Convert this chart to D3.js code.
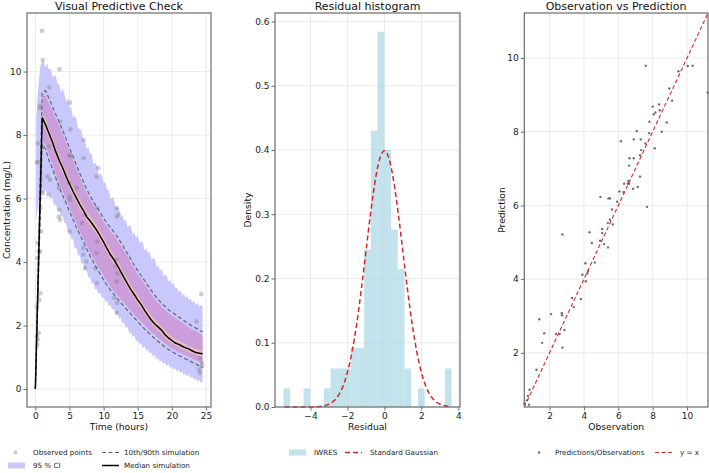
<!DOCTYPE html>
<html>
<head>
<meta charset="utf-8">
<script src="https://cdn.jsdelivr.net/npm/d3@7"></script>
<style>
  body { margin: 0; background: #fff; }
  svg { font-family: 'DejaVu Sans', sans-serif; }
</style>
</head>
<body>
<svg id="chart" width="709" height="473"></svg>
<script>
const TITLE_SIZE = 11
const LABEL_SIZE = 9.2
const TICK_SIZE = 9
const LEGEND_SIZE = 7.2
const SPINE_COLOR = '#6b6b6b'
const GRID_COLOR = '#e6e6e6'
const RED = '#d62728'

// ---- VPC simulation summaries (time in hours) ----
const simTime = [0, 1, 1.5, 2, 2.5, 3, 3.5, 4, 4.5, 5, 5.5, 6, 6.5, 7, 7.5, 8, 8.5, 9, 9.5, 10, 10.5,
  11, 11.5, 12, 12.5, 13, 13.5, 14, 14.5, 15, 15.5, 16, 16.5, 17, 17.5, 18, 18.5, 19, 19.5, 20, 20.5,
  21, 21.5, 22, 22.5, 23, 23.5, 24, 24.5]
const median = [0, 8.55, 8.32, 8.05, 7.78, 7.47, 7.20, 6.97, 6.70, 6.46, 6.23, 6.02, 5.82, 5.64, 5.43, 5.30,
  5.15, 5.00, 4.82, 4.63, 4.42, 4.23, 4.08, 3.90, 3.70, 3.50, 3.31, 3.13, 2.97, 2.80, 2.66, 2.48, 2.32,
  2.17, 2.05, 1.95, 1.85, 1.71, 1.61, 1.53, 1.45, 1.41, 1.35, 1.30, 1.26, 1.20, 1.15, 1.13, 1.11]
const p90 = [0, 9.35, 9.40, 9.15, 8.90, 8.65, 8.40, 8.15, 7.88, 7.60, 7.33, 7.05, 6.80, 6.55, 6.30, 6.10,
  5.90, 5.72, 5.55, 5.38, 5.22, 5.08, 4.95, 4.80, 4.63, 4.45, 4.27, 4.08, 3.90, 3.73, 3.57, 3.42, 3.25,
  3.10, 2.95, 2.82, 2.70, 2.60, 2.50, 2.42, 2.35, 2.27, 2.20, 2.12, 2.05, 1.98, 1.92, 1.86, 1.80]
const p10 = [0, 7.70, 7.55, 7.20, 6.95, 6.65, 6.35, 6.10, 5.85, 5.60, 5.35, 5.10, 4.87, 4.65, 4.42, 4.20,
  4.00, 3.80, 3.62, 3.44, 3.27, 3.12, 2.98, 2.85, 2.72, 2.60, 2.48, 2.36, 2.24, 2.12, 2.00, 1.89, 1.79,
  1.69, 1.59, 1.50, 1.41, 1.33, 1.25, 1.18, 1.12, 1.06, 1.01, 0.95, 0.90, 0.84, 0.79, 0.73, 0.68]

// inner bands start at 1 h
const bandTime = simTime.slice(1)
const pinkHi = [9.22, 9.25, 8.98, 8.78, 8.50, 8.28, 8.02, 7.78, 7.48, 7.24, 6.92, 6.70, 6.42, 6.20, 5.96,
  5.80, 5.60, 5.45, 5.26, 5.12, 4.96, 4.85, 4.68, 4.53, 4.34, 4.18, 3.97, 3.80, 3.62, 3.47, 3.30, 3.15,
  2.98, 2.85, 2.71, 2.60, 2.49, 2.40, 2.31, 2.25, 2.16, 2.10, 2.01, 1.95, 1.87, 1.82, 1.75, 1.70]
const pinkLo = [7.82, 7.68, 7.35, 7.08, 6.78, 6.48, 6.24, 5.97, 5.73, 5.47, 5.22, 4.98, 4.77, 4.53, 4.32,
  4.12, 3.92, 3.75, 3.56, 3.40, 3.24, 3.10, 2.96, 2.83, 2.71, 2.59, 2.47, 2.35, 2.23, 2.12, 2.01, 1.90,
  1.80, 1.70, 1.61, 1.52, 1.44, 1.36, 1.29, 1.23, 1.17, 1.12, 1.06, 1.01, 0.96, 0.91, 0.86, 0.81]
const medHi = [8.72, 8.48, 8.20, 7.93, 7.62, 7.36, 7.10, 6.86, 6.60, 6.38, 6.17, 5.97, 5.79, 5.60, 5.45,
  5.30, 5.15, 4.97, 4.78, 4.57, 4.38, 4.21, 4.05, 3.85, 3.65, 3.46, 3.28, 3.11, 2.94, 2.78, 2.62, 2.46,
  2.30, 2.18, 2.07, 1.96, 1.84, 1.73, 1.65, 1.58, 1.52, 1.46, 1.41, 1.35, 1.30, 1.26, 1.23, 1.21]
const medLo = [8.38, 8.17, 7.90, 7.63, 7.33, 7.06, 6.81, 6.56, 6.32, 6.10, 5.88, 5.68, 5.50, 5.32, 5.17,
  5.02, 4.87, 4.69, 4.50, 4.29, 4.11, 3.94, 3.78, 3.58, 3.38, 3.19, 3.01, 2.85, 2.69, 2.53, 2.38, 2.22,
  2.07, 1.95, 1.85, 1.73, 1.61, 1.52, 1.44, 1.38, 1.32, 1.26, 1.21, 1.16, 1.11, 1.07, 1.04, 1.02]

// 95 % CI band (finer grid, noisy edges)
const ciTime = [0.1, 0.25, 0.5, 0.75,
  1, 1.25, 1.5, 1.75, 2, 2.25, 2.5, 2.75, 3, 3.25, 3.5, 3.75, 4, 4.25, 4.5, 4.75, 5, 5.25, 5.5, 5.75,
  6, 6.25, 6.5, 6.75, 7, 7.25, 7.5, 7.75, 8, 8.25, 8.5, 8.75, 9, 9.25, 9.5, 9.75, 10, 10.25, 10.5, 10.75,
  11, 11.25, 11.5, 11.75, 12, 12.25, 12.5, 12.75, 13, 13.25, 13.5, 13.75, 14, 14.25, 14.5, 14.75,
  15, 15.25, 15.5, 15.75, 16, 16.25, 16.5, 16.75, 17, 17.25, 17.5, 17.75, 18, 18.25, 18.5, 18.75,
  19, 19.25, 19.5, 19.75, 20, 20.25, 20.5, 20.75, 21, 21.25, 21.5, 21.75, 22, 22.25, 22.5, 22.75,
  23, 23.25, 23.5, 23.75, 24, 24.25, 24.5]
const ciHi = [8.4, 9.0, 9.7, 10.2,
  10.30, 10.30, 10.12, 10.25, 10.05, 10.10, 9.83, 9.86, 9.87, 9.60, 9.61, 9.36, 9.46, 9.30, 9.06, 9.15,
  8.88, 8.87, 8.55, 8.60, 8.52, 8.22, 8.19, 8.15, 7.82, 7.84, 7.56, 7.63, 7.40, 7.42, 7.10, 7.13,
  7.06, 6.75, 6.80, 6.73, 6.48, 6.53, 6.27, 6.27, 5.98, 6.05, 6.00, 5.72, 5.73, 5.70, 5.41, 5.48,
  5.28, 5.35, 5.09, 5.15, 5.13, 4.86, 4.93, 4.76, 4.85, 4.61, 4.65, 4.62, 4.35, 4.44, 4.26, 4.33,
  4.07, 4.13, 4.09, 3.84, 3.91, 3.73, 3.79, 3.56, 3.61, 3.57, 3.37, 3.44, 3.29, 3.34, 3.16, 3.21,
  3.05, 3.12, 2.95, 3.01, 2.87, 2.94, 2.80, 2.85, 2.73, 2.79, 2.65, 2.71, 2.60, 2.66, 2.58]
const ciLo = [5.3, 5.6, 5.9, 6.1,
  6.20, 6.18, 6.30, 6.11, 6.18, 5.98, 6.03, 5.77, 5.82, 5.62, 5.66, 5.42, 5.47, 5.22, 5.24, 4.95,
  4.96, 4.73, 4.74, 4.44, 4.45, 4.21, 4.22, 3.94, 3.96, 3.75, 3.77, 3.51, 3.53, 3.32, 3.36, 3.13,
  3.16, 2.99, 3.05, 2.85, 2.91, 2.74, 2.79, 2.60, 2.66, 2.49, 2.54, 2.35, 2.39, 2.22, 2.25, 2.06,
  2.10, 1.92, 1.96, 1.76, 1.80, 1.64, 1.68, 1.51, 1.54, 1.40, 1.45, 1.29, 1.34, 1.20, 1.25, 1.11,
  1.15, 1.02, 1.07, 0.93, 0.97, 0.86, 0.91, 0.79, 0.83, 0.73, 0.78, 0.66, 0.71, 0.61, 0.66, 0.55,
  0.60, 0.50, 0.56, 0.44, 0.49, 0.40, 0.46, 0.35, 0.40, 0.30, 0.35, 0.25, 0.29, 0.20, 0.22]

// observed points
const obsTime = [0.98, 1.08, 0.69, 0.64, 0.35, 0.35, 0.25, 1.03, 1.08, 0.73, 0.83, 0.35, 0.49, 0.29, 0.69,
  0.73, 0.59, 0.25, 0.49, 0.2, 0.4, 0.29,
  2.05, 2.05, 1.81, 2.15, 1.96,
  3.52, 3.62, 3.42, 3.52, 3.42, 3.62,
  5.08, 5.13, 5.08, 5.03, 4.98, 5.03, 5.08, 5.03,
  7.03, 7.08, 6.06, 7.28, 6.84, 6.98, 7.03, 7.47, 7.28,
  9.22, 8.94, 9.1, 9.08, 8.99, 8.79, 9.03,
  11.9, 11.9, 12.2, 11.9, 11.7, 12.0, 11.9, 11.57, 11.96, 11.96,
  24.3, 23.6, 24.1, 24.4, 24.4, 24.0, 24.1]
const obsConc = [11.28, 10.36, 8.92, 8.84, 7.74, 7.16, 7.13, 7.64, 6.17, 5.70, 4.96, 4.6, 4.33, 4.13, 4.33,
  3.02, 2.81, 2.60, 1.77, 1.66, 1.56, 1.40,
  9.5, 7.64, 6.69, 6.59, 6.12,
  10.07, 8.42, 6.33, 5.64, 5.43, 5.33,
  9.02, 8.18, 7.37, 7.34, 6.48, 6.06, 5.96, 4.96,
  7.85, 7.27, 6.33, 5.49, 5.23, 4.44, 4.23, 4.02, 3.81,
  6.96, 6.69, 5.70, 4.65, 4.28, 3.81, 3.34,
  5.70, 5.43, 5.49, 4.07, 3.86, 3.65, 3.39, 2.87, 2.71, 2.40,
  2.99, 2.13, 0.98, 0.82, 0.72, 0.61, 0.51]

// ---- residual histogram (density) ----
const binEdges = [-5.465, -5.101, -4.737, -4.373, -4.009, -3.645, -3.281, -2.917, -2.553, -2.189, -1.825,
  -1.461, -1.097, -0.733, -0.369, -0.005, 0.359, 0.723, 1.087, 1.451, 1.815, 2.179, 2.543, 2.907, 3.271, 3.635]
const binDensity = [0.029, 0, 0, 0.029, 0, 0, 0.029, 0.06, 0.06, 0.06, 0.092, 0.092, 0.245, 0.43, 0.584,
  0.40, 0.276, 0.215, 0.06, 0, 0.029, 0, 0, 0, 0.06]
const gaussX = [-5.4, -5, -4.5, -4, -3.75, -3.5, -3.25, -3, -2.75, -2.5, -2.25, -2, -1.75, -1.5, -1.25, -1,
  -0.75, -0.5, -0.25, 0, 0.25, 0.5, 0.75, 1, 1.25, 1.5, 1.75, 2, 2.25, 2.5, 2.75, 3, 3.25, 3.6]
const gaussY = [0, 0, 0, 0.0001, 0.0004, 0.0009, 0.002, 0.0044, 0.0091, 0.0175, 0.0317, 0.054, 0.0863,
  0.1295, 0.1826, 0.242, 0.3011, 0.3521, 0.3867, 0.3989, 0.3867, 0.3521, 0.3011, 0.242, 0.1826, 0.1295,
  0.0863, 0.054, 0.0317, 0.0175, 0.0091, 0.0044, 0.002, 0.0006]

// ---- observation vs prediction ----
const observed = [7.6, 10.04, 10.33, 9.5, 8.97, 11.2, 9.13, 8.37, 8.0, 8.41, 8.16, 8.06, 7.81, 8.82, 7.07,
  8.53, 7.79, 6.16, 6.9, 7.31, 7.58, 8.12, 7.33, 7.27, 6.65, 6.9, 6.63, 7.27, 6.59, 6.55, 6.34, 6.63, 7.13,
  6.86, 6.07, 6.3, 4.96, 5.43, 5.52, 5.93, 7.67, 5.64,
  5.52, 5.39, 5.68, 5.06, 5.06, 4.32, 2.75, 4.46, 5.17, 4.94, 5.4, 4.63, 4.09, 4.24, 4.2, 3.91, 4.11, 3.31,
  3.82, 3.41, 2.09, 2.71, 2.73, 1.4, 2.87, 1.69, 2.58, 2.37, 1.57, 2.75, 1.24, 0.83, 0.68, 0.54, 0.81, 0.74]
const predicted = [9.79, 9.78, 9.79, 9.64, 9.17, 9.06, 8.84, 8.74, 8.68, 8.58, 8.52, 8.47, 8.27, 8.25, 8.02,
  8.0, 7.96, 7.74, 7.79, 7.79, 7.68, 7.55, 7.5, 7.36, 7.28, 7.28, 7.08, 6.78, 6.66, 6.59, 6.59, 6.59, 6.5,
  6.45, 6.38, 6.36, 6.23, 6.19, 6.19, 6.1, 5.96, 5.89,
  5.61, 5.52, 5.48, 5.36, 5.25, 5.27, 5.21, 4.98, 4.95, 5.04, 4.86, 4.45, 4.43, 4.22, 4.16, 4.12, 3.94, 3.49,
  3.46, 3.24, 3.05, 3.08, 3.02, 2.91, 2.62, 2.53, 2.51, 2.51, 2.27, 2.14, 1.54, 1.0, 0.71, 0.63, 0.59, 0.83]

const svg = d3.select('#chart')
const TOP = 13, BOTTOM = 407

// common frame: grid, title, labels
function drawFrame (g, x, y, xTicks, yTicks, title, xLabel, yLabel, yLabelX) {
  const [x0, x1] = x.range()
  const grid = g.append('g')
  grid.selectAll('.gx').data(xTicks).join('line')
    .attr('x1', d => x(d)).attr('x2', d => x(d)).attr('y1', TOP).attr('y2', BOTTOM)
    .attr('stroke', GRID_COLOR).attr('stroke-width', 0.8)
  grid.selectAll('.gy').data(yTicks).join('line')
    .attr('x1', x0).attr('x2', x1).attr('y1', d => y(d)).attr('y2', d => y(d))
    .attr('stroke', GRID_COLOR).attr('stroke-width', 0.8)

  g.append('text')
    .attr('x', (x0 + x1) / 2).attr('y', 9.5)
    .attr('text-anchor', 'middle').attr('font-size', TITLE_SIZE).attr('fill', '#111')
    .text(title)
  g.append('text')
    .attr('x', (x0 + x1) / 2).attr('y', 430)
    .attr('text-anchor', 'middle').attr('font-size', LABEL_SIZE).attr('fill', '#111')
    .text(xLabel)
  g.append('text')
    .attr('transform', 'translate(' + yLabelX + ',' + ((TOP + BOTTOM) / 2) + ') rotate(-90)')
    .attr('text-anchor', 'middle').attr('font-size', LABEL_SIZE).attr('fill', '#111')
    .text(yLabel)
}

function drawAxes (g, x, y, xTicks, yTicks, yFmt) {
  const [x0, x1] = x.range()
  const ax = g.append('g').attr('transform', 'translate(0,' + BOTTOM + ')')
    .call(d3.axisBottom(x).tickValues(xTicks).tickSize(3.5).tickPadding(2).tickFormat(d3.format('d')))
  const ay = g.append('g').attr('transform', 'translate(' + x0 + ',0)')
    .call(d3.axisLeft(y).tickValues(yTicks).tickSize(3.5).tickPadding(2).tickFormat(yFmt))
  for (const a of [ax, ay]) {
    a.select('.domain').remove()
    a.selectAll('line').attr('stroke', SPINE_COLOR)
    a.selectAll('text').attr('font-size', TICK_SIZE).attr('fill', '#222')
      .attr('font-family', "'DejaVu Sans', sans-serif")
  }
  ax.selectAll('text').text(d => d < 0 ? '\u2212' + Math.abs(d) : d)
  g.append('rect')
    .attr('x', x0).attr('y', TOP).attr('width', x1 - x0).attr('height', BOTTOM - TOP)
    .attr('fill', 'none').attr('stroke', SPINE_COLOR).attr('stroke-width', 1.2)
}

// ===================== PANEL 1: VPC =====================
function drawVPC () {
  const g = svg.append('g')
  const x = d3.scaleLinear().domain([-1.225, 25.725]).range([27, 211])
  const y = d3.scaleLinear().domain([-0.564, 11.844]).range([BOTTOM, TOP])
  const xTicks = [0, 5, 10, 15, 20, 25]
  const yTicks = [0, 2, 4, 6, 8, 10]
  drawFrame(g, x, y, xTicks, yTicks, 'Visual Predictive Check', 'Time (hours)',
    'Concentration (mg/L)', 9.5)

  const area = (tt, lo, hi) => d3.area()
    .x((d, i) => x(tt[i])).y0((d, i) => y(lo[i])).y1((d, i) => y(hi[i]))(tt)
  g.append('path').attr('d', area(ciTime, ciLo, ciHi)).attr('fill', '#c8c8fd')
  g.append('path').attr('d', area(bandTime, pinkLo, pinkHi)).attr('fill', '#d04f9c').attr('fill-opacity', 0.35)
  g.append('path').attr('d', area(bandTime, medLo, medHi)).attr('fill', '#ffd9a8').attr('fill-opacity', 0.55)

  g.append('g').selectAll('circle').data(obsTime).join('circle')
    .attr('cx', d => x(d)).attr('cy', (d, i) => y(obsConc[i])).attr('r', 2.3)
    .attr('fill', '#808080').attr('fill-opacity', 0.4)

  const line = (vals) => d3.line().x((d, i) => x(simTime[i])).y((d, i) => y(vals[i]))(simTime)
  for (const v of [p10, p90]) {
    g.append('path').attr('d', line(v)).attr('fill', 'none')
      .attr('stroke', '#666').attr('stroke-width', 1.2).attr('stroke-dasharray', '4,2.5')
  }
  g.append('path').attr('d', line(median)).attr('fill', 'none')
    .attr('stroke', '#000').attr('stroke-width', 1.5)

  drawAxes(g, x, y, xTicks, yTicks, d3.format('d'))
}

// ===================== PANEL 2: histogram =====================
function drawHistogram () {
  const g = svg.append('g')
  const x = d3.scaleLinear().domain([-5.92, 4.09]).range([275, 460])
  const y = d3.scaleLinear().domain([0, 0.6132]).range([BOTTOM, TOP])
  const xTicks = [-4, -2, 0, 2, 4]
  const yTicks = [0, 0.1, 0.2, 0.3, 0.4, 0.5, 0.6]
  drawFrame(g, x, y, xTicks, yTicks, 'Residual histogram', 'Residual', 'Density', 251)

  g.append('g').selectAll('rect').data(binDensity).join('rect')
    .attr('x', (d, i) => x(binEdges[i]))
    .attr('width', (d, i) => x(binEdges[i + 1]) - x(binEdges[i]))
    .attr('y', d => y(d)).attr('height', d => y(0) - y(d))
    .attr('fill', '#add8e6').attr('fill-opacity', 0.75)

  g.append('path')
    .attr('d', d3.line().curve(d3.curveMonotoneX).x((d, i) => x(gaussX[i])).y((d, i) => y(gaussY[i]))(gaussX))
    .attr('fill', 'none').attr('stroke', RED).attr('stroke-width', 1.5).attr('stroke-dasharray', '5,3')

  drawAxes(g, x, y, xTicks, yTicks, d3.format('.1f'))
}

// ===================== PANEL 3: obs vs pred =====================
function drawObsPred () {
  const g = svg.append('g')
  const lim = [0.53, 11.22]
  const x = d3.scaleLinear().domain(lim).range([524.3, 708])
  const y = d3.scaleLinear().domain(lim).range([BOTTOM, TOP])
  const xTicks = [2, 4, 6, 8, 10]
  const yTicks = [2, 4, 6, 8, 10]
  drawFrame(g, x, y, xTicks, yTicks, 'Observation vs Prediction', 'Observation', 'Prediction', 505)

  g.append('g').selectAll('circle').data(observed).join('circle')
    .attr('cx', d => x(d)).attr('cy', (d, i) => y(predicted[i])).attr('r', 1.2)
    .attr('fill', '#333').attr('fill-opacity', 0.7)

  g.append('line')
    .attr('x1', x(lim[0])).attr('y1', y(lim[0])).attr('x2', x(lim[1])).attr('y2', y(lim[1]))
    .attr('stroke', RED).attr('stroke-width', 1.1).attr('stroke-dasharray', '4,2.5')

  drawAxes(g, x, y, xTicks, yTicks, d3.format('d'))
}

// ===================== LEGENDS =====================
function legendText (x, y, txt) {
  svg.append('text').attr('x', x).attr('y', y).attr('dy', '0.35em')
    .attr('font-size', LEGEND_SIZE).attr('fill', '#222').text(txt)
}
function legendLine (x, y, color, dash, w) {
  svg.append('line').attr('x1', x).attr('x2', x + 17).attr('y1', y).attr('y2', y)
    .attr('stroke', color).attr('stroke-width', w).attr('stroke-dasharray', dash)
}
function drawLegends () {
  const r1 = 452.5, r2 = 465.5
  svg.append('circle').attr('cx', 15.5).attr('cy', r1).attr('r', 2)
    .attr('fill', '#808080').attr('fill-opacity', 0.4)
  legendText(33, r1, 'Observed points')
  legendLine(102, r1, '#666', '4,2.5', 1.2)
  legendText(124, r1, '10th/90th simulation')
  svg.append('rect').attr('x', 8).attr('y', r2 - 3).attr('width', 17).attr('height', 6).attr('fill', '#c8c8fd')
  legendText(33, r2, '95 % CI')
  legendLine(102, r2, '#000', null, 1.5)
  legendText(124, r2, 'Median simulation')

  svg.append('rect').attr('x', 289).attr('y', r1 - 3).attr('width', 17).attr('height', 6)
    .attr('fill', '#add8e6').attr('fill-opacity', 0.75)
  legendText(314, r1, 'IWRES')
  legendLine(345, r1, RED, '5,3', 1.5)
  legendText(370, r1, 'Standard Gaussian')

  svg.append('circle').attr('cx', 539).attr('cy', r1).attr('r', 1.2)
    .attr('fill', '#333').attr('fill-opacity', 0.7)
  legendText(555, r1, 'Predictions/Observations')
  legendLine(655, r1, RED, '4,2.5', 1.1)
  legendText(680, r1, 'y = x')
}

drawVPC()
drawHistogram()
drawObsPred()
drawLegends()
</script>
</body>
</html>
